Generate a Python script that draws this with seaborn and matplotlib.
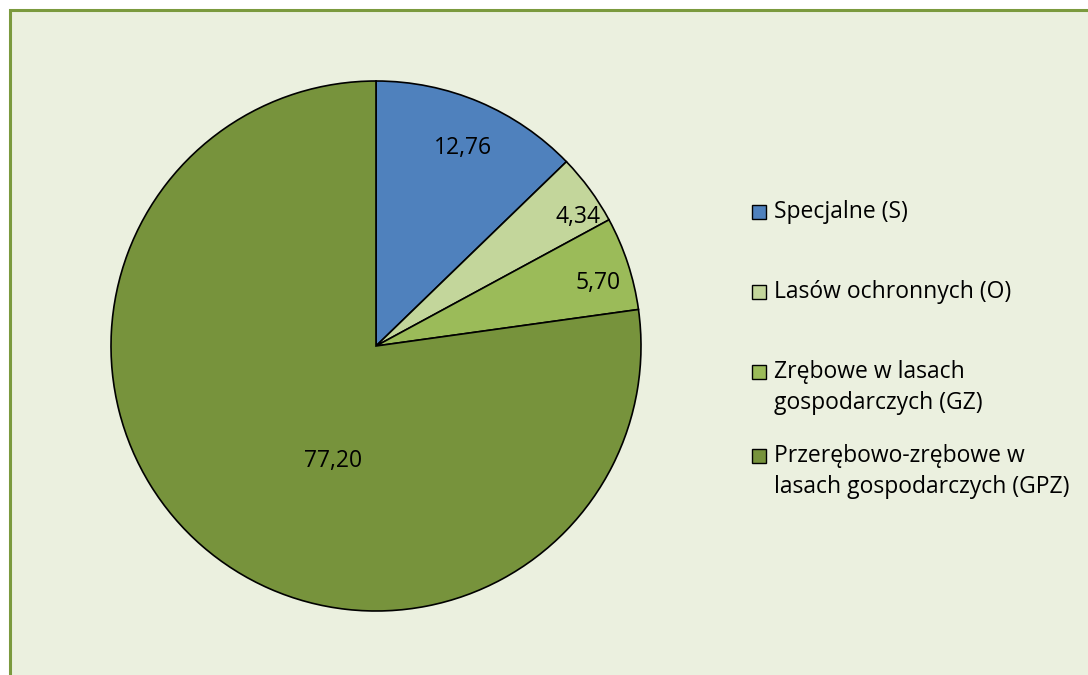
import matplotlib
matplotlib.use("Agg")
import matplotlib.pyplot as plt
import seaborn as sns
import numpy as np
from matplotlib.patches import Rectangle

categories = ["Specjalne (S)", "Lasów ochronnych (O)",
              "Zrębowe w lasach\ngospodarczych (GZ)",
              "Przerębowo-zrębowe w\nlasach gospodarczych (GPZ)"]
values = [12.76, 4.34, 5.70, 77.20]
value_labels = ["12,76", "4,34", "5,70", "77,20"]
colors = ["#4F81BD", "#C3D69B", "#9BBB59", "#77933C"]

sns.set_theme(style="white")
plt.rcParams['font.family'] = ['Open Sans', 'DejaVu Sans']

W, H = 1088, 675
fig = plt.figure(figsize=(W / 100, H / 100), dpi=100)
fig.patch.set_facecolor("white")

# chart area background with border
bg = Rectangle((10 / W, -0.1), 1.2, (H - 10) / H + 0.1, transform=fig.transFigure,
               facecolor="#EBF0DF", edgecolor="#7B9A3E", linewidth=2.2, zorder=-5)
fig.patches.append(bg)

cx, cy, R = 376, 346, 265
ax = fig.add_axes([(cx - R) / W, (H - cy - R) / H, 2 * R / W, 2 * R / H])
ax.set_zorder(2)
ax.set_facecolor("none")
wedges, _ = ax.pie(values, colors=colors, startangle=90, counterclock=False,
                   radius=1.0, wedgeprops=dict(edgecolor="black", linewidth=1.2))
ax.set_xlim(-1, 1)
ax.set_ylim(-1, 1)
ax.set_aspect("equal")
ax.axis("off")

label_r = [0.816, 0.905, 0.87, 0.465]
label_dang = [-0.7, -3.6, -2.4, 20.5]
for w, txt, r, da in zip(wedges, value_labels, label_r, label_dang):
    mid = np.deg2rad((w.theta1 + w.theta2) / 2 + da)
    ax.text(r * np.cos(mid), r * np.sin(mid), txt, ha="center", va="center",
            fontsize=16.5, color="black")

# legend
leg_y = [212, 292, 372, 456]
line_h = 31
for lab, col, y in zip(categories, colors, leg_y):
    fig.patches.append(Rectangle((752 / W, (H - y - 7) / H), 14 / W, 14 / H,
                                 transform=fig.transFigure, facecolor=col,
                                 edgecolor="black", linewidth=1.0, zorder=3))
    for k, line in enumerate(lab.split("\n")):
        fig.text(774 / W, (H - y - k * line_h) / H, line, ha="left", va="center",
                 fontsize=16.5, color="black")

fig.savefig("out.png", dpi=100, facecolor=fig.get_facecolor())
